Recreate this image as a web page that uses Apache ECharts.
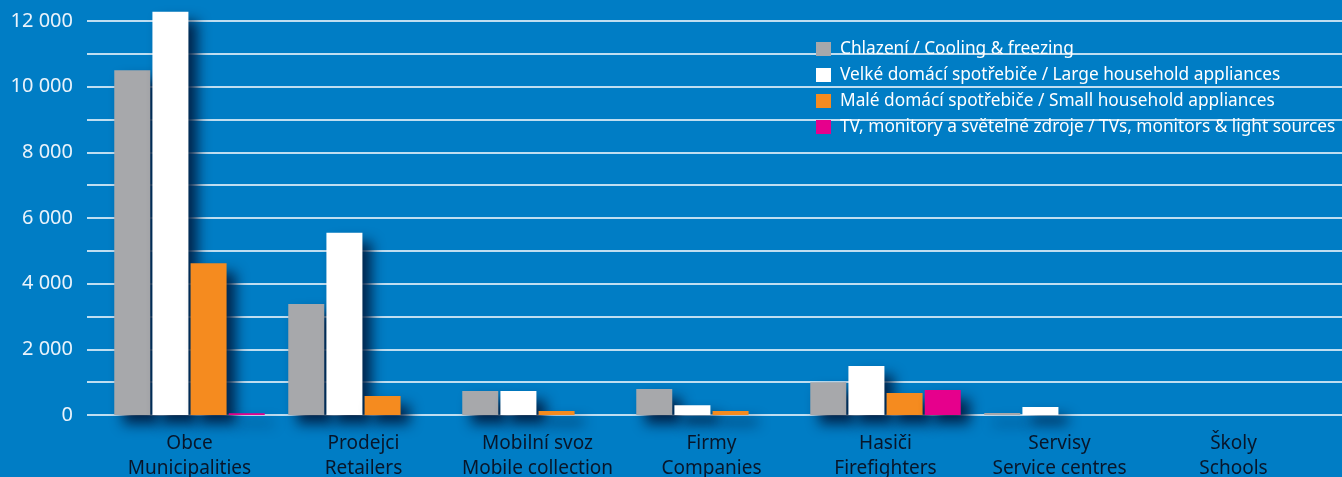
<!DOCTYPE html>
<html>
<head>
<meta charset="utf-8">
<script src="https://cdn.jsdelivr.net/npm/echarts@6/dist/echarts.min.js"></script>
<style>
html,body{margin:0;padding:0;background:#007dc5;}
#c{width:1342px;height:477px;}
</style>
</head>
<body>
<div id="c"></div>
<script>
const categories = ['Obce\nMunicipalities','Prodejci\nRetailers','Mobilní svoz\nMobile collection','Firmy\nCompanies','Hasiči\nFirefighters','Servisy\nService centres','Školy\nSchools'];
const seriesNames = ['Chlazení / Cooling & freezing','Velké domácí spotřebiče / Large household appliances','Malé domácí spotřebiče / Small household appliances','TV, monitory a světelné zdroje / TVs, monitors & light sources'];
const cooling = [10500, 3380, 730, 790, 1000, 60, 0];
const large = [12280, 5550, 730, 300, 1490, 240, 0];
const small = [4620, 580, 120, 120, 670, 0, 0];
const tv = [50, 0, 0, 0, 760, 0, 0];
const yTicks = [0, 2000, 4000, 6000, 8000, 10000, 12000];

const colors = ['#a7a8ab', '#ffffff', '#f58b1f', '#e6008c'];
const values = [cooling, large, small, tv];
const fmt = v => yTicks.indexOf(v) >= 0 ? String(v).replace(/\B(?=(\d{3})+(?!\d))/g, ' ') : '';
const font = 'Noto Sans';

const chart = echarts.init(document.getElementById('c'), null, {renderer: 'canvas'});
chart.setOption({
  animation: false,
  backgroundColor: '#007dc5',
  textStyle: {fontFamily: font},
  grid: [
    {left: 102.5, right: 21.5, top: 21, bottom: 62, containLabel: false, outerBoundsMode: 'none'},
    {left: 87, right: 0, top: 21, bottom: 62, containLabel: false, outerBoundsMode: 'none'}
  ],
  legend: {
    orient: 'vertical',
    left: 816, top: 39, padding: 0,
    itemWidth: 15, itemHeight: 14, itemGap: 6,
    icon: 'rect',
    data: seriesNames,
    textStyle: {color: '#ffffff', fontSize: 17.3, fontFamily: font, lineHeight: 20, padding: [0,0,0,4]}
  },
  xAxis: [
    {type: 'category', gridIndex: 0, data: categories,
     axisLine: {show: false}, axisTick: {show: false},
     axisLabel: {color: '#08162a', fontSize: 19, lineHeight: 25, margin: 16, interval: 0, fontFamily: font}},
    {type: 'value', gridIndex: 1, min: 0, max: 1, show: false}
  ],
  yAxis: [
    {type: 'value', gridIndex: 0, min: 0, max: 12000, interval: 1000,
     axisLine: {show: false}, axisTick: {show: false}, axisLabel: {show: false}, splitLine: {show: false}},
    {type: 'value', gridIndex: 1, min: 0, max: 12000, interval: 1000, z: 0,
     axisLine: {show: false}, axisTick: {show: false},
     axisLabel: {color: '#eaf3fb', fontSize: 20, margin: 14, formatter: fmt, fontFamily: font},
     splitLine: {show: true, lineStyle: {color: '#ffffff', width: 1.5}}}
  ],
  series: values.map((d, i) => ({
    name: seriesNames[i], type: 'bar', xAxisIndex: 0, yAxisIndex: 0,
    data: d, barWidth: 36, barGap: '6%', clip: false,
    itemStyle: {color: colors[i], shadowColor: 'rgba(0,32,68,0.95)', shadowBlur: 13, shadowOffsetX: 9, shadowOffsetY: 9}
  }))
});
</script>
</body>
</html>
